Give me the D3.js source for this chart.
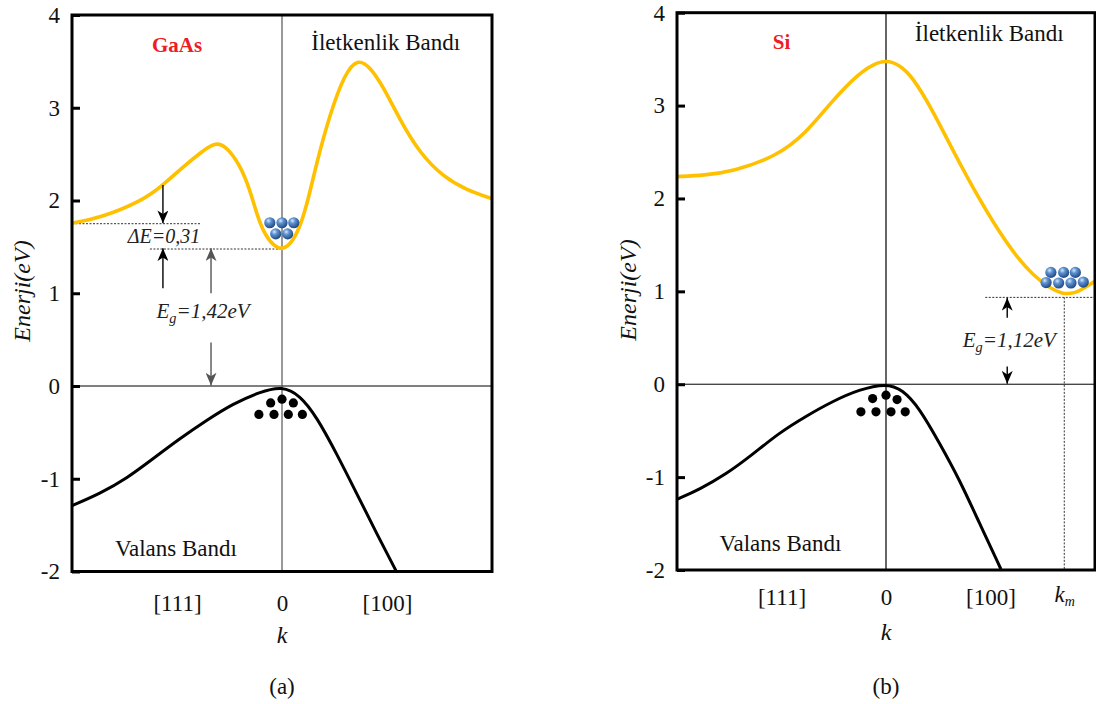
<!DOCTYPE html>
<html>
<head>
<meta charset="utf-8">
<script src="https://cdn.jsdelivr.net/npm/d3@7"></script>
<style>
  body { margin: 0; background: #fff; }
  text { font-family: "Liberation Serif", "Times New Roman", serif; }
</style>
</head>
<body>
<svg id="chart" width="1096" height="704"></svg>
<script>
// ---- data (k is relative, E in eV) ----
const eTicks = [-2, -1, 0, 1, 2, 3, 4];
const kTicks = [-0.5, 0, 0.5];
const kTickLabels = ['[111]', '0', '[100]'];
const kmValue = 0.853;

const gaasConduction = [
  [-1, 1.756], [-0.867, 1.81], [-0.662, 2.0], [-0.567, 2.166], [-0.452, 2.40],
  [-0.39, 2.51], [-0.319, 2.635], [-0.263, 2.579], [-0.2, 2.382], [-0.152, 2.112],
  [-0.119, 1.842], [-0.081, 1.626], [-0.038, 1.507], [0, 1.47], [0.043, 1.53],
  [0.086, 1.713], [0.124, 2.0], [0.162, 2.38], [0.229, 2.94], [0.300, 3.371],
  [0.359, 3.53], [0.419, 3.442], [0.482, 3.227], [0.562, 2.867], [0.657, 2.508],
  [0.768, 2.256], [0.880, 2.112], [1, 2.02]
];
const gaasValence = [
  [-1, -1.29], [-0.867, -1.16], [-0.740, -0.998], [-0.613, -0.782], [-0.486, -0.566],
  [-0.359, -0.369], [-0.232, -0.189], [-0.105, -0.064], [0, 0.0], [0.086, -0.099],
  [0.165, -0.333], [0.260, -0.728], [0.356, -1.16], [0.451, -1.591], [0.546, -2.005]
];
const siConduction = [
  [-1, 2.235], [-0.87, 2.25], [-0.735, 2.29], [-0.526, 2.45], [-0.383, 2.70],
  [-0.255, 3.06], [-0.128, 3.35], [-0.06, 3.445], [0, 3.49], [0.064, 3.44],
  [0.127, 3.31], [0.223, 2.95], [0.319, 2.52], [0.446, 1.99], [0.574, 1.52],
  [0.701, 1.16], [0.853, 0.93], [0.94, 1.02], [1, 1.11]
];
const siValence = [
  [-1, -1.24], [-0.893, -1.132], [-0.766, -0.971], [-0.638, -0.756], [-0.511, -0.523],
  [-0.383, -0.344], [-0.255, -0.183], [-0.128, -0.057], [0, 0.01], [0.079, -0.057],
  [0.159, -0.254], [0.255, -0.63], [0.351, -1.025], [0.446, -1.49], [0.550, -1.992]
];

const gaasElectrons = [[-0.058, 1.76], [0, 1.76], [0.056, 1.76], [-0.03, 1.64], [0.027, 1.64]];
const gaasHoles = [[-0.054, -0.182], [0, -0.142], [0.054, -0.182],
  [-0.11, -0.307], [-0.038, -0.307], [0.03, -0.307], [0.097, -0.307]];
const siElectrons = [[0.789, 1.204], [0.850, 1.204], [0.906, 1.204],
  [0.766, 1.095], [0.826, 1.09], [0.885, 1.09], [0.944, 1.10]];
const siHoles = [[-0.064, -0.154], [0, -0.118], [0.053, -0.165],
  [-0.12, -0.297], [-0.048, -0.297], [0.024, -0.297], [0.092, -0.297]];

// dashed guides: [[k1,E1],[k2,E2]]
const gaasGuides = [[[-1, 1.75], [-0.39, 1.75]], [[-0.629, 1.477], [0, 1.477]]];
const siGuides = [[[0.475, 0.935], [1, 0.935]], [[0.853, 0.935], [0.853, -2]]];

// arrows: from -> to (tip), tone
const gaasArrows = [
  { from: [-0.567, 2.166], to: [-0.567, 1.755], tone: 'black' },
  { from: [-0.567, 1.055], to: [-0.567, 1.485], tone: 'black' },
  { from: [-0.338, 1.0], to: [-0.338, 1.485], tone: 'gray' },
  { from: [-0.338, 0.47], to: [-0.338, 0.005], tone: 'gray' }
];
const siArrows = [
  { from: [0.58, 0.717], to: [0.58, 0.93], tone: 'black' },
  { from: [0.58, 0.19], to: [0.58, 0.005], tone: 'black' }
];

const FONT = '"Liberation Serif", "Times New Roman", serif';
const svg = d3.select('#chart');
const defs = svg.append('defs');

const grad = defs.append('radialGradient').attr('id', 'ball')
  .attr('cx', '38%').attr('cy', '32%').attr('r', '70%');
grad.append('stop').attr('offset', '0%').attr('stop-color', '#d6e8fb');
grad.append('stop').attr('offset', '35%').attr('stop-color', '#5f93d2');
grad.append('stop').attr('offset', '100%').attr('stop-color', '#1c467f');

[['black', '#000'], ['gray', '#555']].forEach(([name, col]) => {
  defs.append('marker').attr('id', 'head-' + name)
    .attr('viewBox', '0 -6 14 12').attr('refX', 14).attr('refY', 0)
    .attr('markerWidth', 13).attr('markerHeight', 11)
    .attr('markerUnits', 'userSpaceOnUse').attr('orient', 'auto')
    .append('path').attr('d', 'M0,-6L14,0L0,6L4,0Z').attr('fill', col);
});

function subText(g, x, y, size, main, sub, rest) {
  const t = g.append('text').attr('x', x).attr('y', y).attr('text-anchor', 'middle')
    .style('font-size', size + 'px').style('font-style', 'italic').attr('fill', '#222');
  t.append('tspan').text(main);
  t.append('tspan').attr('dy', 5).style('font-size', (size * 0.68) + 'px').text(sub);
  if (rest) t.append('tspan').attr('dy', -5).text(rest);
  return t;
}

function drawPanel(cfg) {
  const g = svg.append('g');
  const x = d3.scaleLinear().domain([-1, 1]).range(cfg.xRange);
  const y = d3.scaleLinear().domain([-2, 4]).range(cfg.yRange);

  const clipId = 'clip-' + cfg.name;
  defs.append('clipPath').attr('id', clipId).append('rect')
    .attr('x', x(-1)).attr('y', y(4)).attr('width', x(1) - x(-1)).attr('height', y(-2) - y(4));
  const plot = g.append('g').attr('clip-path', `url(#${clipId})`);

  // zero lines
  plot.append('line').attr('x1', x(-1)).attr('x2', x(1)).attr('y1', y(0)).attr('y2', y(0))
    .attr('stroke', '#000').attr('stroke-width', 1);
  plot.append('line').attr('x1', x(0)).attr('x2', x(0)).attr('y1', y(4)).attr('y2', y(-2))
    .attr('stroke', cfg.midColor).attr('stroke-width', 1.2);

  // dashed guides
  plot.selectAll('.guide').data(cfg.guides).enter().append('line')
    .attr('x1', d => x(d[0][0])).attr('y1', d => y(d[0][1]))
    .attr('x2', d => x(d[1][0])).attr('y2', d => y(d[1][1]))
    .attr('stroke', '#333').attr('stroke-width', 1).attr('stroke-dasharray', '2,1.5');

  const line = d3.line().x(d => x(d[0])).y(d => y(d[1])).curve(d3.curveBasis);
  plot.append('path').datum(cfg.conduction).attr('d', line)
    .attr('fill', 'none').attr('stroke', '#FFC000').attr('stroke-width', 3.6);
  plot.append('path').datum(cfg.valence).attr('d', line)
    .attr('fill', 'none').attr('stroke', '#000').attr('stroke-width', 3);

  // arrows
  plot.selectAll('.arrow').data(cfg.arrows).enter().append('line')
    .attr('x1', d => x(d.from[0])).attr('y1', d => y(d.from[1]))
    .attr('x2', d => x(d.to[0])).attr('y2', d => y(d.to[1]))
    .attr('stroke', d => d.tone === 'gray' ? '#555' : '#000').attr('stroke-width', 1.4)
    .attr('marker-end', d => `url(#head-${d.tone})`);

  // electrons and holes
  plot.selectAll('.hole').data(cfg.holes).enter().append('circle')
    .attr('cx', d => x(d[0])).attr('cy', d => y(d[1])).attr('r', 4.6).attr('fill', '#000');
  plot.selectAll('.electron').data(cfg.electrons).enter().append('circle')
    .attr('cx', d => x(d[0])).attr('cy', d => y(d[1])).attr('r', 5.6).attr('fill', 'url(#ball)');

  // frame
  g.append('rect').attr('x', x(-1)).attr('y', y(4))
    .attr('width', x(1) - x(-1)).attr('height', y(-2) - y(4))
    .attr('fill', 'none').attr('stroke', '#000').attr('stroke-width', 3);

  // y axis
  const ya = g.append('g').attr('transform', `translate(${x(-1)},0)`)
    .call(d3.axisLeft(y).tickValues(eTicks).tickSize(-8).tickPadding(12).tickFormat(d => String(d)));
  ya.select('.domain').remove();
  ya.selectAll('line').attr('stroke-width', 3);
  ya.selectAll('text').style('font-size', '23px').attr('fill', '#111');

  // x axis
  const xa = g.append('g').attr('transform', `translate(0,${y(-2)})`)
    .call(d3.axisBottom(x).tickValues(cfg.kTicks).tickSize(0).tickPadding(cfg.xPad)
      .tickFormat((d, i) => cfg.kLabels[i]));
  xa.select('.domain').remove();
  xa.selectAll('text').style('font-size', '23px').attr('fill', '#111');
  if (cfg.km) {
    const kmText = xa.selectAll('text').filter(d => d === kmValue);
    kmText.text(null).attr('dy', '0.55em');
    kmText.append('tspan').style('font-style', 'italic').text('k');
    kmText.append('tspan').attr('dy', 4).style('font-size', '14px').style('font-style', 'italic').text('m');
  }

  // titles
  g.append('text').attr('x', x(0)).attr('y', cfg.kTitleY).attr('text-anchor', 'middle')
    .style('font-size', '24px').style('font-style', 'italic').attr('fill', '#111').text('k');
  g.append('text').attr('x', x(0)).attr('y', cfg.capY).attr('text-anchor', 'middle')
    .style('font-size', '23px').attr('fill', '#111').text(cfg.caption);
  g.append('text').attr('transform', `translate(${cfg.eTitleX},${cfg.eTitleY}) rotate(-90)`)
    .attr('text-anchor', 'middle').attr('dy', '0.35em')
    .style('font-size', '24px').style('font-style', 'italic').attr('fill', '#111').text('Enerji(eV)');

  // band names
  g.append('text').attr('x', x(-0.5)).attr('y', y(cfg.nameE)).attr('dy', '0.35em')
    .attr('text-anchor', 'middle').style('font-size', '21px').style('font-weight', 'bold')
    .attr('fill', '#ee1c24').text(cfg.material);
  g.append('text').attr('x', x(0.494)).attr('y', y(cfg.condE)).attr('dy', '0.35em')
    .attr('text-anchor', 'middle').style('font-size', '23px').attr('fill', '#111').text('İletkenlik Bandı');
  g.append('text').attr('x', x(-0.505)).attr('y', y(cfg.valE)).attr('dy', '0.35em')
    .attr('text-anchor', 'middle').style('font-size', '23px').attr('fill', '#111').text('Valans Bandı');

  return { g, x, y };
}

const a = drawPanel({
  name: 'a', xRange: [72, 492], yRange: [571.5, 15], midColor: '#555',
  conduction: gaasConduction, valence: gaasValence, guides: gaasGuides, arrows: gaasArrows,
  electrons: gaasElectrons, holes: gaasHoles,
  kTicks: kTicks, kLabels: kTickLabels, xPad: 23, km: false,
  kTitleY: 643, capY: 694, caption: '(a)', eTitleX: 22, eTitleY: 291,
  material: 'GaAs', nameE: 3.676, condE: 3.71, valE: -1.75
});
a.g.append('text').attr('x', a.x(-0.562)).attr('y', a.y(1.616)).attr('dy', '0.35em')
  .attr('text-anchor', 'middle').style('font-size', '20px').style('font-style', 'italic')
  .attr('fill', '#222').text('ΔE=0,31');
subText(a.g, a.x(-0.376), a.y(0.807) + 7, 21, 'E', 'g', '=1,42eV');

const b = drawPanel({
  name: 'b', xRange: [677, 1095], yRange: [570, 12.7], midColor: '#000',
  conduction: siConduction, valence: siValence, guides: siGuides, arrows: siArrows,
  electrons: siElectrons, holes: siHoles,
  kTicks: kTicks.concat([kmValue]), kLabels: kTickLabels.concat(['km']), xPad: 19, km: true,
  kTitleY: 640, capY: 694, caption: '(b)', eTitleX: 628, eTitleY: 290,
  material: 'Si', nameE: 3.69, condE: 3.78, valE: -1.71
});
subText(b.g, b.x(0.59), b.y(0.48) + 7, 21, 'E', 'g', '=1,12eV');

// make sure every label uses the serif face
svg.selectAll('text').style('font-family', FONT);
</script>
</body>
</html>
